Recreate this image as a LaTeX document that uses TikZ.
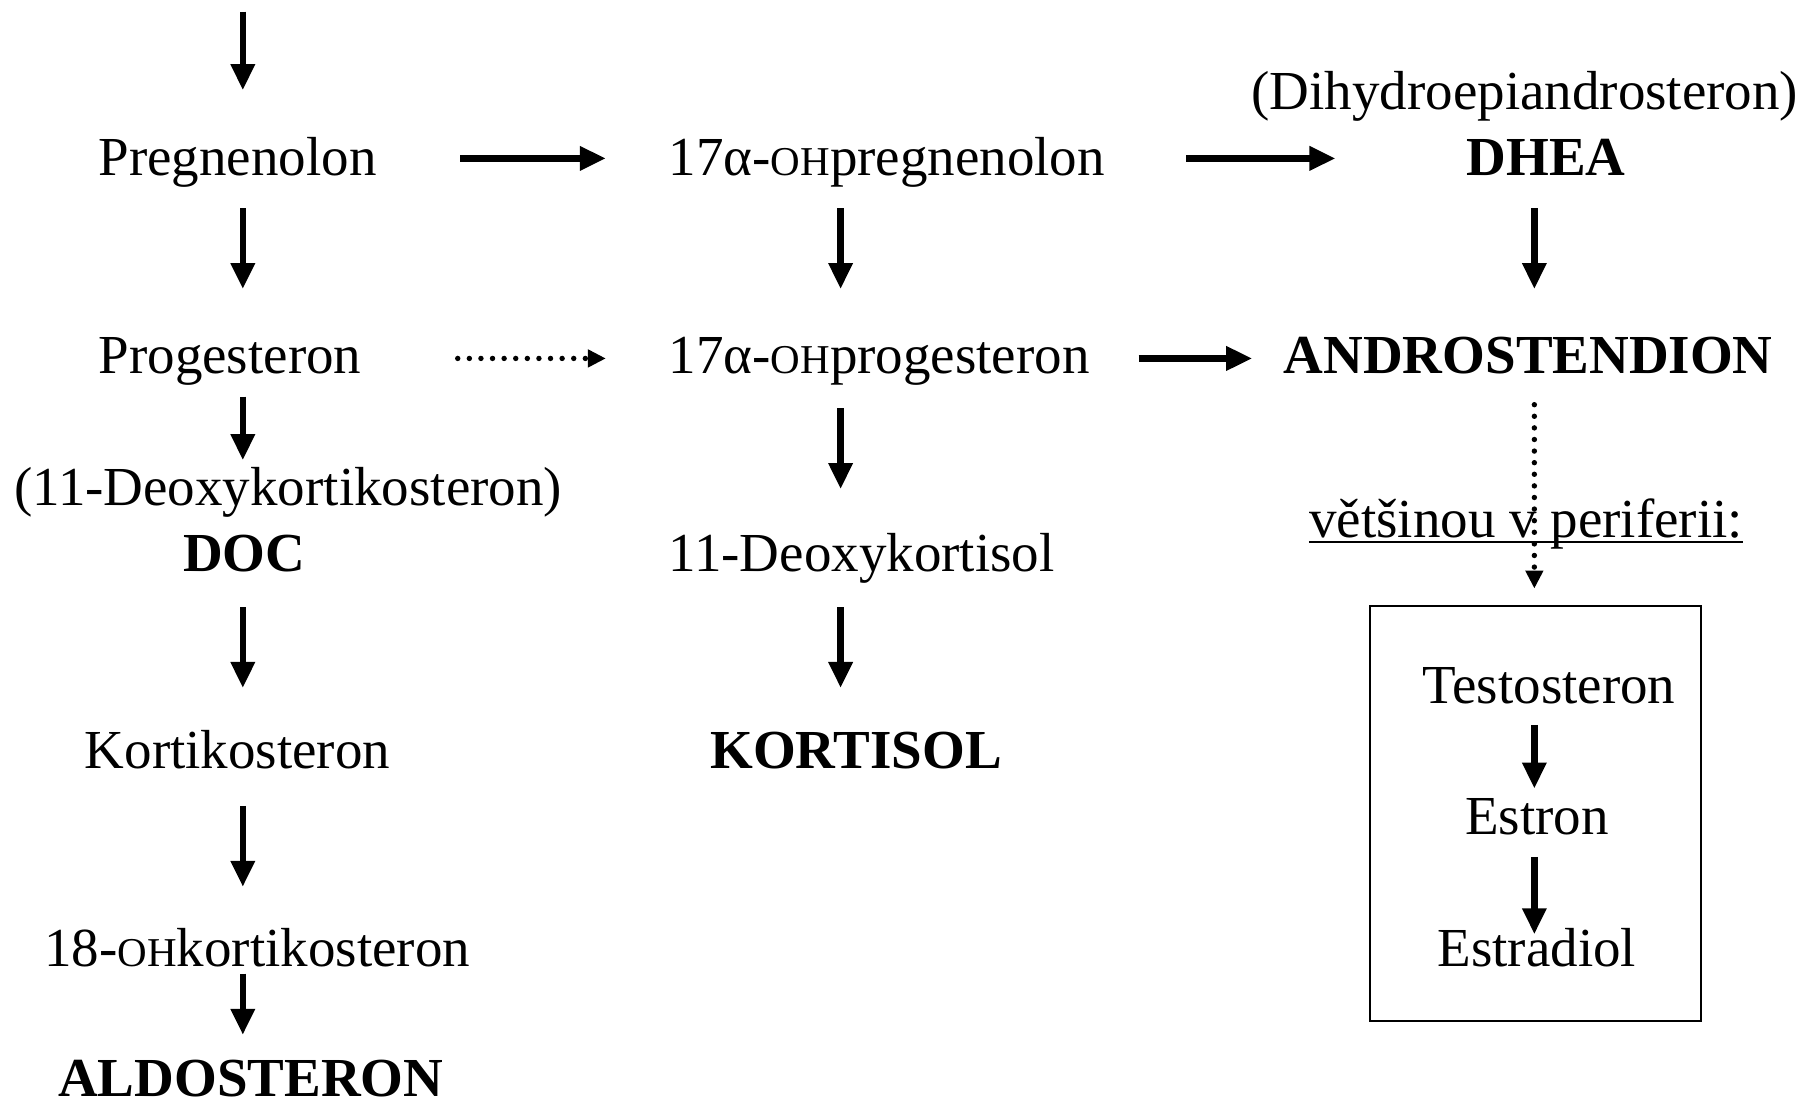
\documentclass[tikz,border=0pt]{standalone}
\usepackage{fontspec}
\setmainfont{Liberation Serif}
\usetikzlibrary{arrows.meta,calc}
\newcommand\smOH{{\fontsize{20.5}{24}\selectfont OH}}
\begin{document}
\begin{tikzpicture}[x=0.5782pt,y=-0.5782pt,
  lbl/.style={anchor=base west, inner sep=0pt, font=\fontsize{27.5}{33}\selectfont},
  arr/.style={line width=3.2pt, -{Triangle[length=13pt,width=11.5pt]}},
  dotarr/.style={line width=2.7pt, line cap=round, dash pattern=on 0pt off 5.8pt, -{Triangle[length=9pt,width=8.5pt]}},
  frame/.style={draw, line width=1.1pt, minimum width=165.4pt, minimum height=207.6pt, inner sep=0pt}
]
\useasboundingbox (0,0) rectangle (1568,957);

\coordinate (c1) at (210,0);
\coordinate (c2) at (727,0);
\coordinate (c3) at (1327,0);
\coordinate (start) at (210,10);

\node[lbl] (dihydro) at (1082,95) {(Dihydroepiandrosteron)};
\node[lbl] (preg) at (85,152) {Pregnenolon};
\node[lbl] (ohpreg) at (578,152) {17α-\smOH pregnenolon};
\node[lbl] (dhea) at (1268,152) {\textbf{DHEA}};
\node[lbl] (prog) at (85,323) {Progesteron};
\node[lbl] (ohprog) at (578,323) {17α-\smOH progesteron};
\node[lbl] (andro) at (1110,323) {\textbf{ANDROSTENDION}};
\node[lbl] (deoxyk) at (12,437) {(11-Deoxykortikosteron)};
\node[lbl] (vets) at (1132,465) {většinou v periferii:};
\node[lbl] (doc) at (158,494) {\textbf{DOC}};
\node[lbl] (deoxyc) at (578,494) {11-Deoxykortisol};
\node[lbl] (testo) at (1230,608) {Testosteron};
\node[lbl] (korti) at (73,665) {Kortikosteron};
\node[lbl] (kortisol) at (614,665) {\textbf{KORTISOL}};
\node[lbl] (estron) at (1267,722) {Estron};
\node[lbl] (ohkort) at (38,836) {18-\smOH kortikosteron};
\node[lbl] (estradiol) at (1243,836) {Estradiol};
\node[lbl] (aldo) at (50,948) {\textbf{ALDOSTERON}};

\node[frame] (box) at (1328,703.5) {};

\draw[line width=1.1pt] ($(vets.base west)+(0,4)$) -- ($(vets.base east)+(0,4)$);

% column 1
\draw[arr] (start) -- ($(preg.base -| c1)+(0,-74)$);
\draw[arr] ($(preg.base -| c1)+(0,28)$) -- ($(prog.base -| c1)+(0,-73)$);
\draw[arr] ($(prog.base -| c1)+(0,20)$) -- ($(deoxyk.base -| c1)+(0,-39)$);
\draw[arr] ($(doc.base -| c1)+(0,31)$) -- ($(korti.base -| c1)+(0,-70)$);
\draw[arr] ($(korti.base -| c1)+(0,32)$) -- ($(ohkort.base -| c1)+(0,-69)$);
\draw[arr] ($(ohkort.base -| c1)+(0,6)$) -- ($(aldo.base -| c1)+(0,-53)$);
% column 2
\draw[arr] ($(ohpreg.base -| c2)+(0,28)$) -- ($(ohprog.base -| c2)+(0,-73)$);
\draw[arr] ($(ohprog.base -| c2)+(0,30)$) -- ($(deoxyc.base -| c2)+(0,-71)$);
\draw[arr] ($(deoxyc.base -| c2)+(0,31)$) -- ($(kortisol.base -| c2)+(0,-70)$);
% column 3
\draw[arr] ($(dhea.base -| c3)+(0,28)$) -- ($(andro.base -| c3)+(0,-73)$);
\draw[dotarr] ($(andro.base -| c3)+(0,27)$) -- ($(box.north -| c3)+(0,-14)$);
\draw[arr] ($(testo.base -| c3)+(0,19)$) -- ($(estron.base -| c3)+(0,-40)$);
\draw[arr] ($(estron.base -| c3)+(0,19)$) -- ($(estradiol.base -| c3)+(0,-28)$);
% horizontal
\draw[arr] ($(preg.base east)+(72,-15)$) -- ($(ohpreg.base west)+(-54,-15)$);
\draw[arr] ($(ohpreg.base east)+(70,-15)$) -- ($(dhea.base west)+(-113,-15)$);
\draw[dotarr] ($(prog.base east)+(83,-13)$) -- ($(ohprog.base west)+(-54,-13)$);
\draw[arr] ($(ohprog.base east)+(42,-13)$) -- ($(andro.base west)+(-27,-13)$);
\end{tikzpicture}
\end{document}
